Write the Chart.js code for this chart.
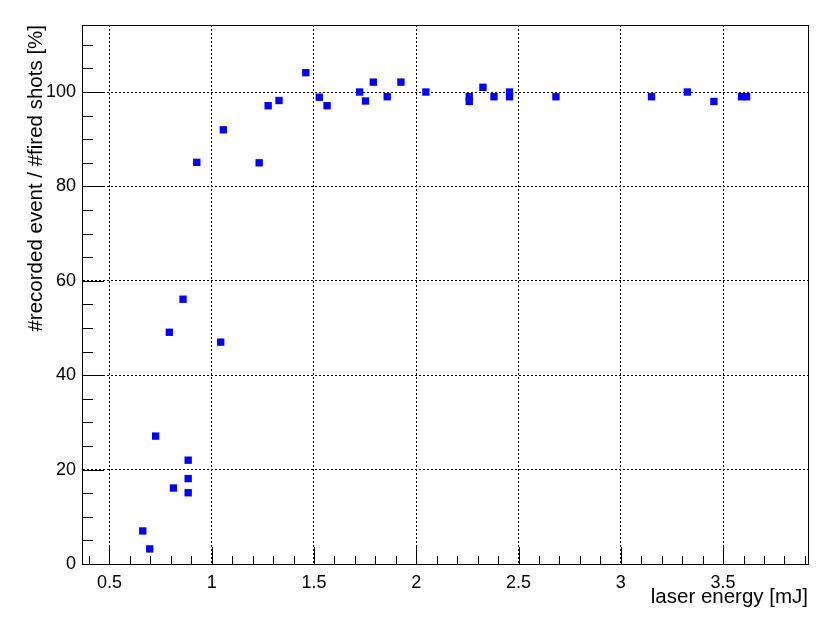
<!DOCTYPE html>
<html>
<head>
    <title>Recorded events vs laser energy</title>
    <script src="https://cdn.jsdelivr.net/npm/chart.js"></script>
    <style>
        body {
            margin: 0;
            background: white;
        }
        #chartBox {
            width: 830px;
            height: 628px;
        }
    </style>
</head>
<body>
    <div id="chartBox">
        <canvas id="effChart" width="830" height="628"></canvas>
    </div>

    <script>
        // laser energy [mJ] and recorded/fired ratio [%]
        const energy = [0.663, 0.697, 0.726, 0.793, 0.813, 0.860, 0.885, 0.885, 0.885, 0.927,
                        1.044, 1.057, 1.232, 1.276, 1.329, 1.460, 1.526, 1.564, 1.723, 1.752,
                        1.790, 1.858, 1.925, 2.047, 2.259, 2.259, 2.326, 2.380, 2.456, 2.456,
                        2.683, 3.150, 3.325, 3.455, 3.590, 3.615];
        const ratio = [7.0, 3.2, 27.1, 49.1, 16.1, 56.1, 22.0, 18.1, 15.1, 85.1,
                       47.0, 92.0, 85.0, 97.1, 98.2, 104.1, 98.9, 97.1, 100.0, 98.1,
                       102.1, 99.0, 102.1, 100.0, 99.0, 98.0, 101.0, 99.0, 100.0, 99.0,
                       99.0, 99.0, 100.0, 98.0, 99.0, 99.0];

        // axis ticks
        const xTicks = [0.5, 1, 1.5, 2, 2.5, 3, 3.5];
        const xTickLabels = ['0.5', '1', '1.5', '2', '2.5', '3', '3.5'];
        const yTicks = [0, 20, 40, 60, 80, 100];
        const xMinor = [0.4, 0.6, 0.7, 0.8, 0.9, 1.1, 1.2, 1.3, 1.4, 1.6, 1.7, 1.8, 1.9,
                        2.1, 2.2, 2.3, 2.4, 2.6, 2.7, 2.8, 2.9, 3.1, 3.2, 3.3, 3.4, 3.6, 3.7, 3.8, 3.9];
        const yMinor = [5, 10, 15, 25, 30, 35, 45, 50, 55, 65, 70, 75, 85, 90, 95, 105, 110];

        const FONT = '"Liberation Sans", Arial, sans-serif';

        // ROOT style frame with inward tick marks
        const frameTicks = {
            id: 'frameTicks',
            afterDatasetsDraw(chart) {
                const ctx = chart.ctx;
                const a = chart.chartArea;
                const xs = chart.scales.x;
                const ys = chart.scales.y;
                ctx.save();
                ctx.strokeStyle = '#000';
                ctx.lineWidth = 1;
                ctx.beginPath();
                xTicks.forEach(v => {
                    const p = Math.round(xs.getPixelForValue(v)) + 0.5;
                    ctx.moveTo(p, a.bottom); ctx.lineTo(p, a.bottom - 17);
                });
                xMinor.forEach(v => {
                    const p = Math.round(xs.getPixelForValue(v)) + 0.5;
                    ctx.moveTo(p, a.bottom); ctx.lineTo(p, a.bottom - 8);
                });
                yTicks.forEach(v => {
                    const p = Math.round(ys.getPixelForValue(v)) + 0.5;
                    ctx.moveTo(a.left, p); ctx.lineTo(a.left + 22, p);
                });
                yMinor.forEach(v => {
                    const p = Math.round(ys.getPixelForValue(v)) + 0.5;
                    ctx.moveTo(a.left, p); ctx.lineTo(a.left + 11, p);
                });
                ctx.stroke();
                ctx.strokeRect(Math.round(a.left) + 0.5, Math.round(a.top) + 0.5,
                               Math.round(a.right - a.left), Math.round(a.bottom - a.top));
                ctx.restore();
            }
        };

        new Chart(document.getElementById('effChart'), {
            type: 'scatter',
            data: {
                datasets: [{
                    data: energy.map((e, i) => ({x: e, y: ratio[i]})),
                    pointStyle: 'rect',
                    pointRadius: 5.2,
                    pointBorderWidth: 0,
                    backgroundColor: '#0000ff',
                    borderColor: '#0000ff'
                }]
            },
            options: {
                responsive: false,
                animation: false,
                layout: {
                    padding: {top: 25, right: 22, left: 0, bottom: 0}
                },
                plugins: {
                    legend: {display: false},
                    tooltip: {enabled: false}
                },
                scales: {
                    x: {
                        type: 'linear',
                        min: 0.366,
                        max: 3.915,
                        afterBuildTicks: s => { s.ticks = xTicks.map(v => ({value: v})); },
                        afterFit: s => { s.height = 64; s.paddingLeft = 0; s.paddingRight = 0; },
                        grid: {color: '#000', lineWidth: 1, drawTicks: false},
                        border: {display: true, color: '#000', width: 1, dash: [2, 2]},
                        ticks: {
                            color: '#000',
                            padding: 8,
                            maxRotation: 0,
                            autoSkip: false,
                            callback: (v, i) => xTickLabels[i],
                            font: {family: FONT, size: 18}
                        },
                        title: {
                            display: true,
                            text: 'laser energy [mJ]',
                            align: 'end',
                            color: '#000',
                            padding: {top: 0, bottom: 18},
                            font: {family: FONT, size: 20.5}
                        }
                    },
                    y: {
                        type: 'linear',
                        min: 0,
                        max: 114.2,
                        afterBuildTicks: s => { s.ticks = yTicks.map(v => ({value: v})); },
                        afterFit: s => { s.width = 82; s.paddingTop = 0; s.paddingBottom = 0; },
                        grid: {color: '#000', lineWidth: 1, drawTicks: false},
                        border: {display: true, color: '#000', width: 1, dash: [2, 2]},
                        ticks: {
                            color: '#000',
                            padding: 6,
                            font: {family: FONT, size: 18}
                        },
                        title: {
                            display: true,
                            text: '#recorded event / #fired shots [%]',
                            align: 'end',
                            color: '#000',
                            padding: {top: 24, bottom: 0},
                            font: {family: FONT, size: 20.5}
                        }
                    }
                }
            },
            plugins: [frameTicks]
        });
    </script>
</body>
</html>
